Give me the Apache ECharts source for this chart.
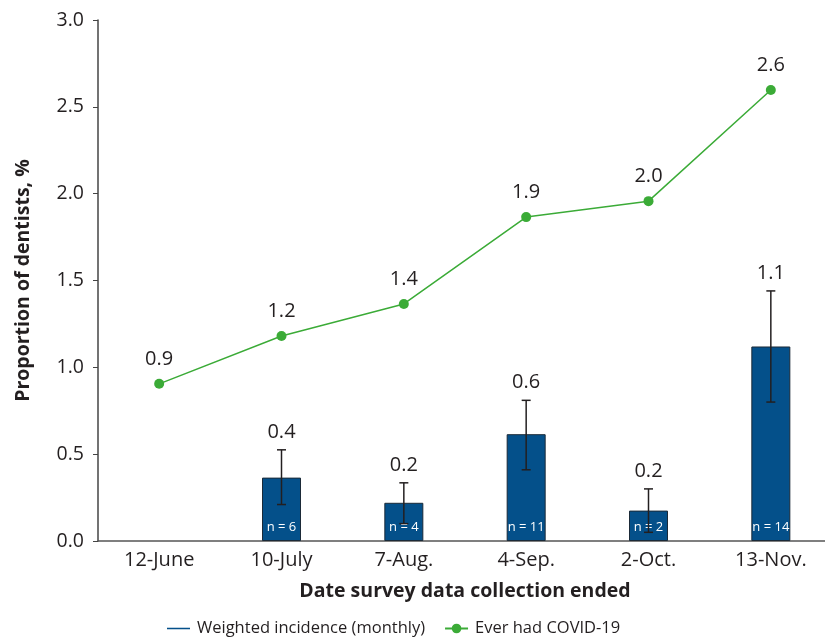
<!DOCTYPE html>
<html>
<head>
<meta charset="utf-8">
<script src="https://cdn.jsdelivr.net/npm/echarts@6/dist/echarts.min.js"></script>
<style>
  html, body { margin: 0; padding: 0; background: #fff; }
  #chart { width: 825px; height: 641px; }
</style>
</head>
<body>
<div id="chart"></div>
<script>
// Survey end dates
const categories = ['12-June', '10-July', '7-Aug.', '4-Sep.', '2-Oct.', '13-Nov.'];
// Weighted monthly incidence (%), with 95% CI bounds and sample counts
const incidence = [null, 0.365, 0.22, 0.615, 0.175, 1.12];
const ciLow = [null, 0.21, 0.10, 0.41, 0.05, 0.80];
const ciHigh = [null, 0.525, 0.335, 0.81, 0.30, 1.44];
const counts = [null, 6, 4, 11, 2, 14];
// Cumulative share who ever had COVID-19 (%)
const everHad = [0.905, 1.18, 1.365, 1.865, 1.957, 2.597];
// Y-axis tick values
const yTicks = [0, 0.5, 1.0, 1.5, 2.0, 2.5, 3.0];

const TEXT = '#231f20';
const BLUE = '#04508a';
const GREEN = '#3bab37';
const FONT = 'Open Sans';

const errData = categories.map((c, i) => [i, ciLow[i], ciHigh[i], incidence[i]]);

const chart = echarts.init(document.getElementById('chart'));
chart.setOption({
  animation: false,
  textStyle: { fontFamily: FONT, color: TEXT },
  grid: { left: 98, width: 734, top: 20, bottom: 100, outerBoundsMode: 'none', containLabel: false },
  legend: {
    left: 167, top: 620, padding: 0,
    itemWidth: 23, itemHeight: 12, itemGap: 19,
    textStyle: { fontSize: 16.5, color: TEXT, fontFamily: FONT, padding: [0, 0, 0, 2] },
    data: [
      { name: 'Weighted incidence (monthly)', icon: 'path://M0,0 L30,0 L30,2 L0,2 Z', itemStyle: { color: BLUE, borderWidth: 0 } },
      { name: 'Ever had COVID-19' }
    ]
  },
  xAxis: {
    type: 'category',
    data: categories,
    name: 'Date survey data collection ended',
    nameLocation: 'middle',
    nameGap: 40,
    nameTextStyle: { fontSize: 19.5, fontWeight: 'bold', color: TEXT, fontFamily: FONT },
    axisLine: { lineStyle: { color: '#555', width: 1.5 } },
    axisTick: { show: false },
    axisLabel: { fontSize: 20, color: TEXT, margin: 9, fontFamily: FONT }
  },
  yAxis: {
    type: 'value',
    min: yTicks[0], max: yTicks[yTicks.length - 1], interval: 0.5,
    name: 'Proportion of dentists, %',
    nameLocation: 'middle',
    nameGap: 65,
    nameTextStyle: { fontSize: 19.5, fontWeight: 'bold', color: TEXT, fontFamily: FONT },
    axisLine: { show: true, lineStyle: { color: '#444', width: 1.5 } },
    axisTick: { show: true, length: 5, lineStyle: { color: '#444' } },
    splitLine: { show: false },
    axisLabel: { fontSize: 19.5, color: TEXT, margin: 14, fontFamily: FONT, formatter: v => v.toFixed(1) }
  },
  series: [
    {
      name: 'Weighted incidence (monthly)',
      type: 'bar',
      data: incidence,
      barWidth: 39,
      itemStyle: { color: BLUE, borderColor: '#1b2a38', borderWidth: 1 },
      label: {
        show: true,
        position: 'insideBottom',
        distance: 7,
        color: '#fff',
        fontSize: 13,
        fontFamily: FONT,
        formatter: p => counts[p.dataIndex] == null ? '' : 'n = ' + counts[p.dataIndex]
      },
      z: 2
    },
    {
      name: 'Error',
      type: 'custom',
      data: errData.filter(d => d[1] != null),
      renderItem: (params, api) => {
        const x = api.value(0);
        const lo = api.coord([x, api.value(1)]);
        const hi = api.coord([x, api.value(2)]);
        const cap = 4.5;
        const style = { stroke: TEXT, lineWidth: 1.5 };
        return {
          type: 'group',
          children: [
            { type: 'line', shape: { x1: hi[0], y1: hi[1], x2: lo[0], y2: lo[1] }, style },
            { type: 'line', shape: { x1: hi[0] - cap, y1: hi[1], x2: hi[0] + cap, y2: hi[1] }, style },
            { type: 'line', shape: { x1: lo[0] - cap, y1: lo[1], x2: lo[0] + cap, y2: lo[1] }, style },
            {
              type: 'text',
              x: hi[0], y: hi[1] - 8,
              style: {
                text: api.value(3).toFixed(1),
                fill: TEXT, fontSize: 20, fontFamily: FONT,
                align: 'center', verticalAlign: 'bottom'
              }
            }
          ]
        };
      },
      z: 3
    },
    {
      name: 'Ever had COVID-19',
      type: 'line',
      data: everHad,
      symbol: 'circle',
      symbolSize: 10,
      lineStyle: { color: GREEN, width: 1.5 },
      itemStyle: { color: GREEN },
      label: {
        show: true,
        position: 'top',
        distance: 10,
        fontSize: 20,
        color: TEXT,
        fontFamily: FONT,
        formatter: p => p.value.toFixed(1)
      },
      z: 4
    }
  ]
});
</script>
</body>
</html>
